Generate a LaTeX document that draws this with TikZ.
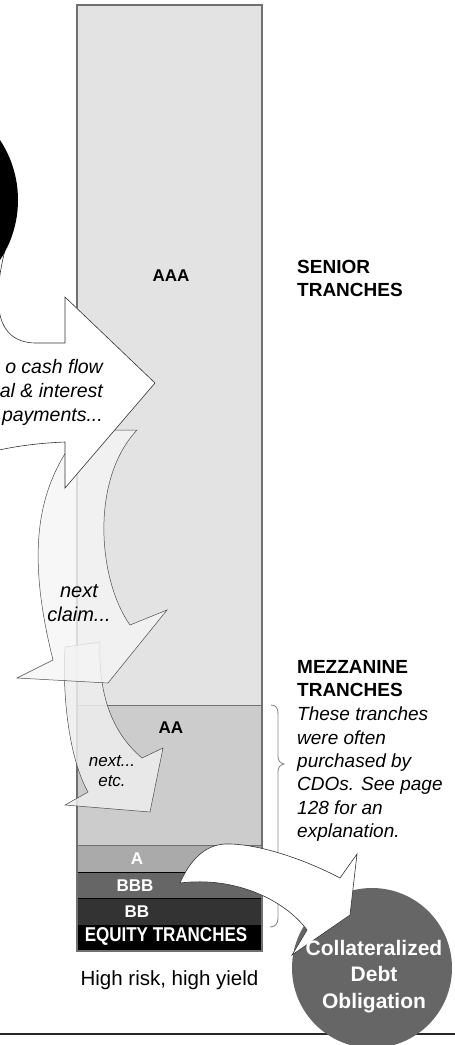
\documentclass[tikz,border=0pt]{standalone}
\usepackage{fontspec}
\setmainfont{Liberation Sans}
\usepackage{graphicx}
\definecolor{tAAA}{HTML}{E3E3E3}
\definecolor{tAA}{HTML}{CCCCCC}
\definecolor{tA}{HTML}{AAAAAA}
\definecolor{tBBB}{HTML}{666666}
\definecolor{tBB}{HTML}{333333}
\definecolor{cdofill}{HTML}{666666}
\definecolor{edgegray}{HTML}{707070}
\tikzset{
  trlbl/.style={font=\fontsize{17}{20}\selectfont\bfseries, inner sep=0pt},
  hdr/.style={font=\fontsize{19}{23}\selectfont\bfseries, align=left, anchor=north west, inner sep=0pt},
  note/.style={font=\fontsize{19}{23.3}\selectfont\itshape, align=left, anchor=north west, inner sep=0pt},
  bigarrow/.style={draw=black!80, line width=0.6pt, fill=white},
  ghostarrow/.style={draw=black!70, line width=0.5pt, fill=black!4, fill opacity=0.8},
}
\begin{document}
\begin{tikzpicture}[x=1pt,y=-1pt]
\useasboundingbox (0,0) rectangle (455,1045);
\clip (0,0) rectangle (455,1045);
% tranche column
\path[fill=tAAA] (77,5) rectangle (262,705);
\path[fill=tAA] (77,705) rectangle (262,845);
\path[fill=tA] (77,845) rectangle (262,872);
\path[fill=tBBB] (77,872) rectangle (262,898);
\path[fill=tBB] (77,898) rectangle (262,925);
\path[fill=black] (77,925) rectangle (262,951);
\draw[edgegray, line width=0.8pt] (77,705) -- (262,705) (77,845) -- (262,845);
\draw[black, line width=0.8pt] (77,872) -- (262,872) (77,898) -- (262,898);
\draw[edgegray, line width=1.2pt] (77,5) rectangle (262,951);
% tranche labels
\node[trlbl] (aaa) at (171,276) {AAA};
\node[trlbl] (aa) at (171,728) {AA};
\node[trlbl, text=white] (ta) at (137,859) {A};
\node[trlbl, text=white] (bbb) at (135,886) {BBB};
\node[trlbl, text=white] (bb) at (137,912) {BB};
\node[trlbl, text=white, font=\fontsize{20}{22}\selectfont\bfseries] (eq) at (166,936) {\scalebox{0.85}[1]{EQUITY TRANCHES}};
\node[font=\fontsize{20.5}{24}\selectfont, anchor=base, inner sep=0pt] (risk) at (169.5,985) {High risk, high yield};
% right side texts
\node[hdr] (senior) at (297,260.5) {SENIOR\\TRANCHES};
\node[hdr] (mezz) at (297,660.5) {MEZZANINE\\TRANCHES};
\node[note] (expl) at (297,707) {These tranches\\were often\\purchased by\\CDOs. See page\\128 for an\\explanation.};
% brace
\draw[black!45, line width=0.9pt] (271,705) .. controls (276,705) and (278,708) .. (278,714) -- (278,756) .. controls (278,761) and (280,763) .. (284,764) .. controls (280,765) and (278,767) .. (278,772) -- (278,918) .. controls (278,924) and (275,927) .. (270,927);
% ghost arrows
\draw[ghostarrow, fill=black!7, fill opacity=0.85] (65,647) -- (100,642) .. controls (98,700) and (115,735) .. (142,758) -- (163,748) -- (150,812) -- (65,805) -- (88,792) .. controls (70,760) and (62,700) .. (65,647) -- cycle;
\draw[ghostarrow] (80,430) -- (137,430) .. controls (90,480) and (98,580) .. (130,625) -- (167,610) -- (108,683) -- (17,678) -- (53,660) .. controls (28,560) and (36,500) .. (66,452) -- cycle;
\node[font=\fontsize{20}{24}\selectfont\itshape, align=center, anchor=north, inner sep=0pt] (claim) at (79,584) {next\\claim...};
\node[font=\fontsize{17}{20}\selectfont\itshape, align=center, anchor=north, inner sep=0pt] (etc) at (112,755) {next...\\etc.};
% big arrow
\draw[bigarrow] (-30,240) -- (6,246) .. controls (-8,300) and (-6,342) .. (35,343) -- (65,343) -- (65,297) -- (155,383) -- (65,488) -- (65,442) .. controls (40,443) and (15,446) .. (-10,452) -- (-30,452) -- cycle;
\fill[black] (-91,200) circle[radius=109pt];
\node[font=\fontsize{19.5}{24}\selectfont\itshape, align=right, anchor=north east, inner sep=0pt] (cash) at (103,358.8) {o cash flow\\al \& interest\\payments...};
% bottom rule and CDO
\draw[black!85, line width=1.5pt] (0,1034) -- (455,1034);
\node[circle, fill=cdofill, minimum size=160pt, inner sep=0pt] (cdo) at (372,968) {};
\draw[bigarrow] (180,883) .. controls (190,860) and (205,845) .. (225,844) .. controls (260,843) and (310,862) .. (340,878) -- (357,854) -- (350,915) -- (292,955) -- (307,930) .. controls (285,900) and (235,876) .. (180,883) -- cycle;
\node[font=\fontsize{21}{26.5}\selectfont\bfseries, text=white, align=center, anchor=north, inner sep=0pt] (cdotxt) at (374,939.7) {Collateralized\\Debt\\Obligation};
\end{tikzpicture}
\end{document}
